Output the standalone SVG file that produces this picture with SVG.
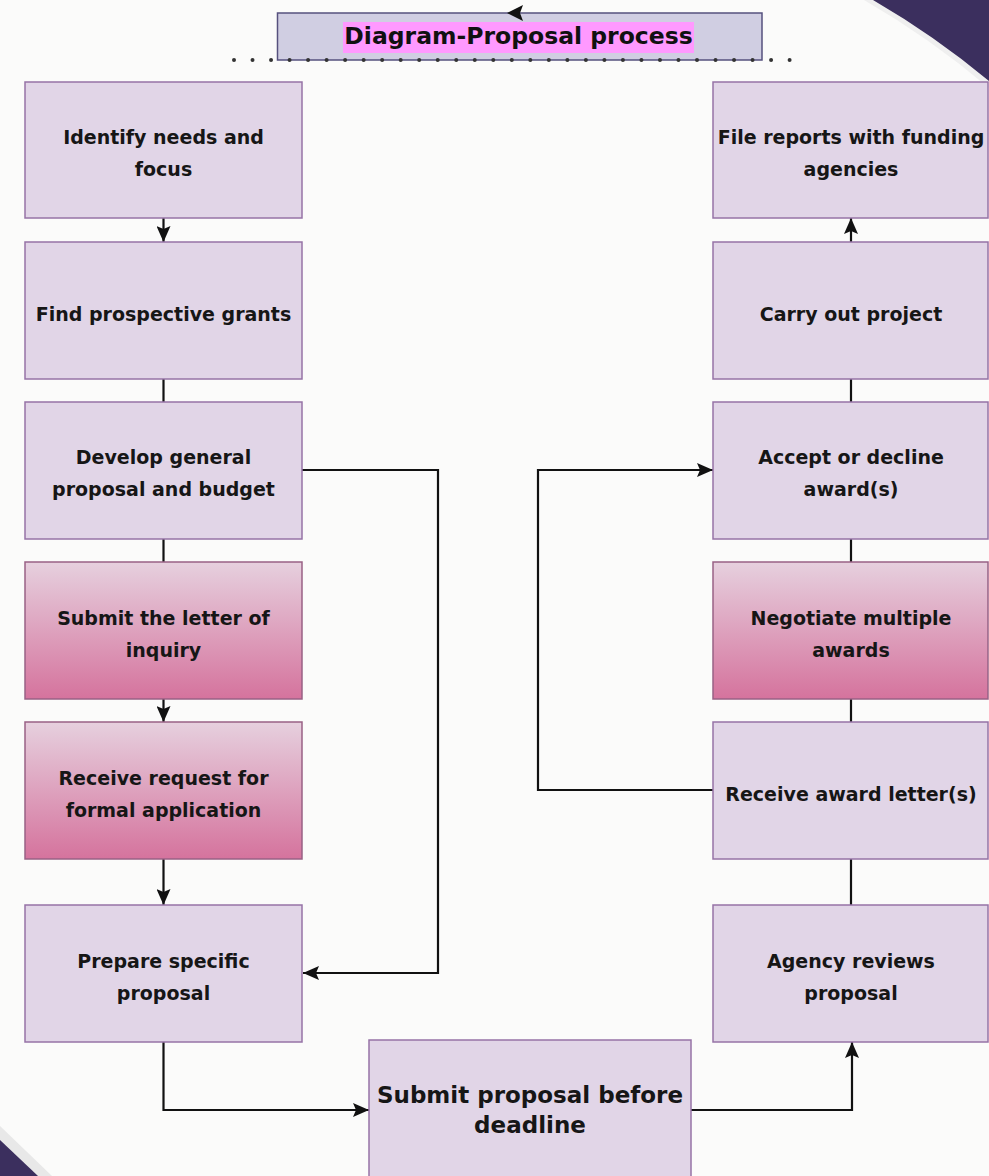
<svg xmlns="http://www.w3.org/2000/svg" width="989" height="1176" viewBox="0 0 989 1176">
<style>
.box{fill:#e1d5e7;stroke:#9673a6;stroke-width:1.5}
.pink{fill:url(#pg);stroke:#996185;stroke-width:1.5}
.t{font-family:"DejaVu Sans",Verdana,sans-serif;font-weight:bold;font-size:19px;fill:#161616;text-anchor:middle}
.tb{font-family:"DejaVu Sans",Verdana,sans-serif;font-weight:bold;font-size:23px;fill:#161616;text-anchor:middle}
.c{fill:none;stroke:#111;stroke-width:2.2}
</style>
<defs>
<linearGradient id="pg" x1="0" y1="0" x2="0" y2="1">
<stop offset="0" stop-color="#e6d0de"/>
<stop offset="1" stop-color="#d5739d"/>
</linearGradient>
<marker id="arr" viewBox="0 0 16 14" refX="16" refY="7" markerWidth="16" markerHeight="14" markerUnits="userSpaceOnUse" orient="auto">
<path d="M0,0 L16,7 L0,14 L3,7 Z" fill="#111"/>
</marker>
</defs>
<rect width="989" height="1176" fill="#fbfbfa"/>
<path d="M864 0 Q930 38 989 88 L989 0 Z" fill="#efefef"/>
<path d="M873 0 Q935 36 989 81 L989 0 Z" fill="#3b2f5e"/>
<path d="M0 1126 L52 1176 L0 1176 Z" fill="#e8e8e8"/>
<path d="M0 1140 L38 1176 L0 1176 Z" fill="#3b2f5e"/>

<g id="title">
<rect x="277.5" y="13" width="484.5" height="47" fill="#d0cee2" stroke="#56517e" stroke-width="1.5"/>
<rect x="343" y="22" width="351" height="31" fill="#ff99ff"/>
<text x="518.5" y="44" font-family="DejaVu Sans,Verdana,sans-serif" font-weight="bold" font-size="23.5" fill="#111" text-anchor="middle">Diagram-Proposal process</text>
<path d="M507 13 L523 5 L520 13 L523 21 Z" fill="#111"/>
<line x1="234" y1="60" x2="808" y2="60" stroke="#333" stroke-width="4" stroke-linecap="round" stroke-dasharray="0 18.52"/>
</g>

<g id="connectors">
<line class="c" x1="163.5" y1="218" x2="163.5" y2="242" marker-end="url(#arr)"/>
<line class="c" x1="163.5" y1="379" x2="163.5" y2="402"/>
<line class="c" x1="163.5" y1="539" x2="163.5" y2="562"/>
<line class="c" x1="163.5" y1="699" x2="163.5" y2="722" marker-end="url(#arr)"/>
<line class="c" x1="163.5" y1="859" x2="163.5" y2="905" marker-end="url(#arr)"/>
<polyline class="c" points="302,470 438,470 438,973 303,973" marker-end="url(#arr)"/>
<polyline class="c" points="163.5,1042 163.5,1110 369,1110" marker-end="url(#arr)"/>
<polyline class="c" points="691,1110 852,1110 852,1042" marker-end="url(#arr)"/>
<line class="c" x1="851" y1="905" x2="851" y2="859"/>
<line class="c" x1="851" y1="722" x2="851" y2="699"/>
<line class="c" x1="851" y1="562" x2="851" y2="539"/>
<line class="c" x1="851" y1="402" x2="851" y2="379"/>
<line class="c" x1="851" y1="242" x2="851" y2="218" marker-end="url(#arr)"/>
<polyline class="c" points="713,790 538,790 538,470 713,470" marker-end="url(#arr)"/>
</g>

<g id="n-identify"><rect class="box" x="25" y="82" width="277" height="136"/><text class="t" x="163.5" y="144">Identify needs and</text><text class="t" x="163.5" y="176">focus</text></g>
<g id="n-find"><rect class="box" x="25" y="242" width="277" height="137"/><text class="t" x="163.5" y="321">Find prospective grants</text></g>
<g id="n-develop"><rect class="box" x="25" y="402" width="277" height="137"/><text class="t" x="163.5" y="464">Develop general</text><text class="t" x="163.5" y="496">proposal and budget</text></g>
<g id="n-letter"><rect class="pink" x="25" y="562" width="277" height="137"/><text class="t" x="163.5" y="625">Submit the letter of</text><text class="t" x="163.5" y="657">inquiry</text></g>
<g id="n-request"><rect class="pink" x="25" y="722" width="277" height="137"/><text class="t" x="163.5" y="785">Receive request for</text><text class="t" x="163.5" y="817">formal application</text></g>
<g id="n-prepare"><rect class="box" x="25" y="905" width="277" height="137"/><text class="t" x="163.5" y="968">Prepare specific</text><text class="t" x="163.5" y="1000">proposal</text></g>

<g id="n-submit"><rect class="box" x="369" y="1040" width="322" height="150"/><text class="tb" x="530" y="1103">Submit proposal before</text><text class="tb" x="530" y="1133">deadline</text></g>

<g id="n-file"><rect class="box" x="713" y="82" width="275" height="136"/><text class="t" x="851" y="144">File reports with funding</text><text class="t" x="851" y="176">agencies</text></g>
<g id="n-carry"><rect class="box" x="713" y="242" width="275" height="137"/><text class="t" x="851" y="321">Carry out project</text></g>
<g id="n-accept"><rect class="box" x="713" y="402" width="275" height="137"/><text class="t" x="851" y="464">Accept or decline</text><text class="t" x="851" y="496">award(s)</text></g>
<g id="n-negotiate"><rect class="pink" x="713" y="562" width="275" height="137"/><text class="t" x="851" y="625">Negotiate multiple</text><text class="t" x="851" y="657">awards</text></g>
<g id="n-award"><rect class="box" x="713" y="722" width="275" height="137"/><text class="t" x="851" y="801">Receive award letter(s)</text></g>
<g id="n-review"><rect class="box" x="713" y="905" width="275" height="137"/><text class="t" x="851" y="968">Agency reviews</text><text class="t" x="851" y="1000">proposal</text></g>
</svg>
